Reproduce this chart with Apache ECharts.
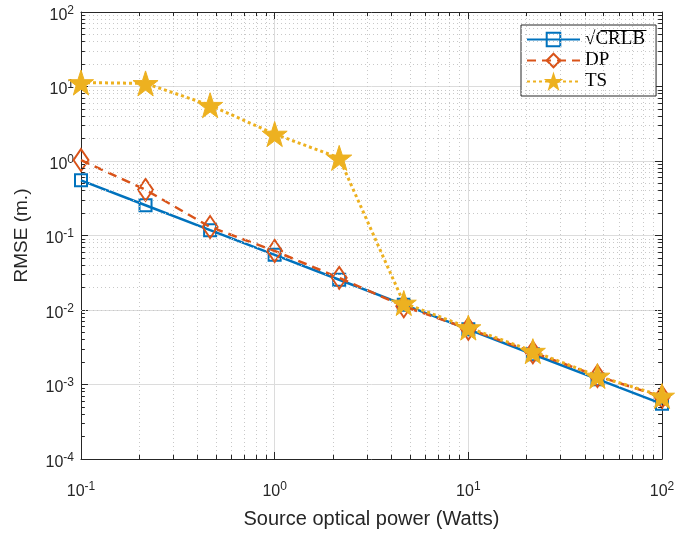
<!DOCTYPE html>
<html>
<head>
<meta charset="utf-8">
<script src="https://cdn.jsdelivr.net/npm/echarts@6/dist/echarts.min.js"></script>
<style>
  html, body { margin: 0; padding: 0; background: #fff; }
  #chart { width: 700px; height: 534px; }
</style>
</head>
<body>
<div id="chart"></div>
<script>
// 数据
let power = [0.1, 0.2154, 0.4642, 1, 2.154, 4.642, 10, 21.54, 46.42, 100]
let crlb = [0.55, 0.255, 0.118, 0.055, 0.0255, 0.0118, 0.0055, 0.00255, 0.00118, 0.00055]
let dp = [1.03, 0.41, 0.13, 0.062, 0.027, 0.0112, 0.0056, 0.0027, 0.0013, 0.00068]
let ts = [11.3, 11.0, 5.6, 2.3, 1.1, 0.0124, 0.0058, 0.0028, 0.0013, 0.0007]
let xTicks = [0.1, 1, 10, 100]
let yTicks = [1e-4, 1e-3, 1e-2, 1e-1, 1, 10, 100]

let blue = '#0072BD', orange = '#D95319', yellow = '#EDB120'
let star = 'path://M50,0 L61.8,35.1 L98.1,35.1 L68.8,56.7 L79.4,90.9 L50,69.8 L20.6,90.9 L31.2,56.7 L1.9,35.1 L38.2,35.1 Z'

function pow10Label(v) {
  let e = Math.round(Math.log10(v))
  return '{b|10}{s|' + e + '}'
}
let labelRich = {
  b: {fontSize: 16, fontFamily: 'Liberation Sans', color: '#262626'},
  s: {fontSize: 12, fontFamily: 'Liberation Sans', color: '#262626', verticalAlign: 'top', padding: [0, 0, 10, 0]}
}

// 次网格线
function minors(lo, hi) {
  let out = []
  for (let d = lo; d < hi; d++) {
    for (let k = 2; k <= 9; k++) out.push(k * Math.pow(10, d))
  }
  return out
}
let xMinor = minors(-1, 2)
let yMinor = minors(-4, 2)

let gridLines = []
xMinor.forEach(v => gridLines.push({xAxis: v}))
yMinor.forEach(v => gridLines.push({yAxis: v}))

// 次刻度 (内侧)
let tickSegs = []
let ty = Math.pow(10, 0.055), tx = Math.pow(10, 0.02)
xMinor.forEach(v => {
  tickSegs.push([{coord: [v, 1e-4]}, {coord: [v, 1e-4 * ty]}])
  tickSegs.push([{coord: [v, 100]}, {coord: [v, 100 / ty]}])
})
yMinor.forEach(v => {
  tickSegs.push([{coord: [0.1, v]}, {coord: [0.1 * tx, v]}])
  tickSegs.push([{coord: [100, v]}, {coord: [100 / tx, v]}])
})

function mkX(pos, showLabel) {
  return {
    type: 'log', logBase: 10, min: 0.1, max: 100, position: pos,
    axisLine: {show: true, onZero: false, lineStyle: {color: '#262626', width: 1}},
    axisTick: {show: true, inside: true, length: 7, lineStyle: {color: '#262626'}},
    axisLabel: {show: showLabel, formatter: pow10Label, rich: labelRich, margin: 22},
    splitLine: {show: showLabel, lineStyle: {color: '#dcdcdc', width: 1}},
    name: showLabel ? 'Source optical power (Watts)' : '',
    nameLocation: 'middle', nameGap: 50,
    nameTextStyle: {fontSize: 20, fontFamily: 'Liberation Sans', color: '#262626'}
  }
}
function mkY(pos, showLabel) {
  return {
    type: 'log', logBase: 10, min: 1e-4, max: 100, position: pos,
    axisLine: {show: true, onZero: false, lineStyle: {color: '#262626', width: 1}},
    axisTick: {show: true, inside: true, length: 7, lineStyle: {color: '#262626'}},
    axisLabel: {show: showLabel, formatter: pow10Label, rich: labelRich, margin: 7, padding: [7, 0, 0, 0]},
    splitLine: {show: showLabel, lineStyle: {color: '#dcdcdc', width: 1}},
    name: showLabel ? 'RMSE (m.)' : '',
    nameLocation: 'middle', nameGap: 50, nameRotate: 90,
    nameTextStyle: {fontSize: 19, fontFamily: 'Liberation Sans', color: '#262626'}
  }
}

let option = {
  animation: false,
  backgroundColor: '#fff',
  grid: {left: 81, right: 38, top: 12, bottom: 66},
  xAxis: [mkX('bottom', true), mkX('top', false)],
  yAxis: [mkY('left', true), mkY('right', false)],
  legend: {
    orient: 'vertical',
    left: 521, top: 25,
    width: 136,
    padding: [5, 11, 5, 5],
    itemGap: 2,
    itemWidth: 53, itemHeight: 17,
    backgroundColor: '#fff',
    borderColor: '#262626', borderWidth: 1,
    textStyle: {fontFamily: 'Liberation Serif', fontSize: 19, lineHeight: 17, color: '#000'},
    data: ['√CRLB', 'DP', 'TS']
  },
  series: [
    {
      name: 'grid', type: 'line', data: [], silent: true,
      markLine: {
        silent: true, symbol: 'none', animation: false,
        label: {show: false},
        lineStyle: {color: '#c8c8c8', type: [1, 3], width: 1},
        data: gridLines
      }
    },
    {
      name: 'ticks', type: 'line', data: [], silent: true,
      markLine: {
        silent: true, symbol: 'none', animation: false,
        label: {show: false},
        lineStyle: {color: '#262626', type: 'solid', width: 1},
        data: tickSegs
      }
    },
    {
      name: '√CRLB', type: 'line', z: 3,
      data: power.map((x, i) => [x, crlb[i]]),
      symbol: 'rect', symbolSize: 12,
      lineStyle: {color: blue, width: 2.5},
      itemStyle: {color: 'rgba(255,255,255,0)', borderColor: blue, borderWidth: 2}
    },
    {
      name: 'DP', type: 'line', z: 4,
      data: power.map((x, i) => [x, dp[i]]),
      symbol: 'diamond', symbolSize: [15, 22],
      lineStyle: {color: orange, width: 2.5, type: [9, 6]},
      itemStyle: {color: 'rgba(255,255,255,0)', borderColor: orange, borderWidth: 2}
    },
    {
      name: 'TS', type: 'line', z: 5,
      data: power.map((x, i) => [x, ts[i]]),
      symbol: star, symbolSize: 25,
      lineStyle: {color: yellow, width: 3, type: [3, 3]},
      itemStyle: {color: yellow, borderColor: yellow, borderWidth: 1}
    }
  ],
  graphic: [
    {type: 'line', left: 598, top: 28, shape: {x1: 0, y1: 0, x2: 46, y2: 0}, style: {stroke: '#000', lineWidth: 1}, z: 100}
  ]
}

echarts.init(document.getElementById('chart')).setOption(option)
</script>
</body>
</html>
